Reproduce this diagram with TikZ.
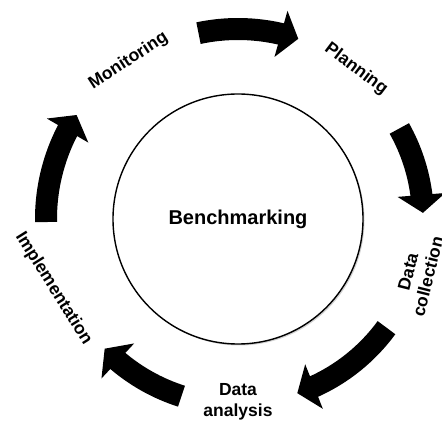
\documentclass[tikz,border=0pt]{standalone}
\usepackage{fontspec}
\setmainfont{Liberation Sans}
\usepackage{tikz}
\usetikzlibrary{arrows.meta,bending,shadows}
\tikzset{
  hubcirc/.style={ draw, circle, line width=1.4pt, fill=white, minimum size=250pt,
    font=\fontsize{20}{24}\selectfont\bfseries,
    drop shadow={shadow xshift=1.5pt, shadow yshift=-1.5pt, opacity=0.35} }
}
\tikzset{
  steplabel/.style={ font=\fontsize{17.5}{20.5}\selectfont\bfseries, align=center, inner sep=0pt }
}
\tikzset{
  cyclearrow/.style={ line width=22pt, -{Triangle[length=18pt, width=47pt, flex]} }
}

\begin{document}
\begin{tikzpicture}[x=1pt, y=1pt]
        \useasboundingbox (0,0) rectangle (442,423);
        \node[hubcirc] (hub) at (238, 204) {Benchmarking};
        \node[steplabel, rotate=-37] (plan) at (356, 354) {Planning};
        \node[steplabel, rotate=76] (collect) at (418, 149) {Data\\collection};
        \node[steplabel] (analyse) at (238, 21) {Data\\analysis};
        \node[steplabel, rotate=-58] (impl) at (53.5, 134.5) {Implementation};
        \node[steplabel, rotate=33] (monitor) at (128.5, 362) {Monitoring};
        % arrows around the hub
        \draw[cyclearrow] ([shift={(102:190pt)}]hub.center) arc[start angle=102, end angle=71.5, radius=190pt];
        \draw[cyclearrow] ([shift={(29.3:185pt)}]hub.center) arc[start angle=29.3, end angle=1.9, radius=185pt];
        \draw[cyclearrow] ([shift={(-36.2:184pt)}]hub.center) arc[start angle=-36.2, end angle=-71.2, radius=184pt];
        \draw[cyclearrow] ([shift={(-107.7:186pt)}]hub.center) arc[start angle=-107.7, end angle=-135.8, radius=186pt];
        \draw[cyclearrow] ([shift={(180.9:192pt)}]hub.center) arc[start angle=180.9, end angle=147.2, radius=192pt];
      \end{tikzpicture}
\end{document}
